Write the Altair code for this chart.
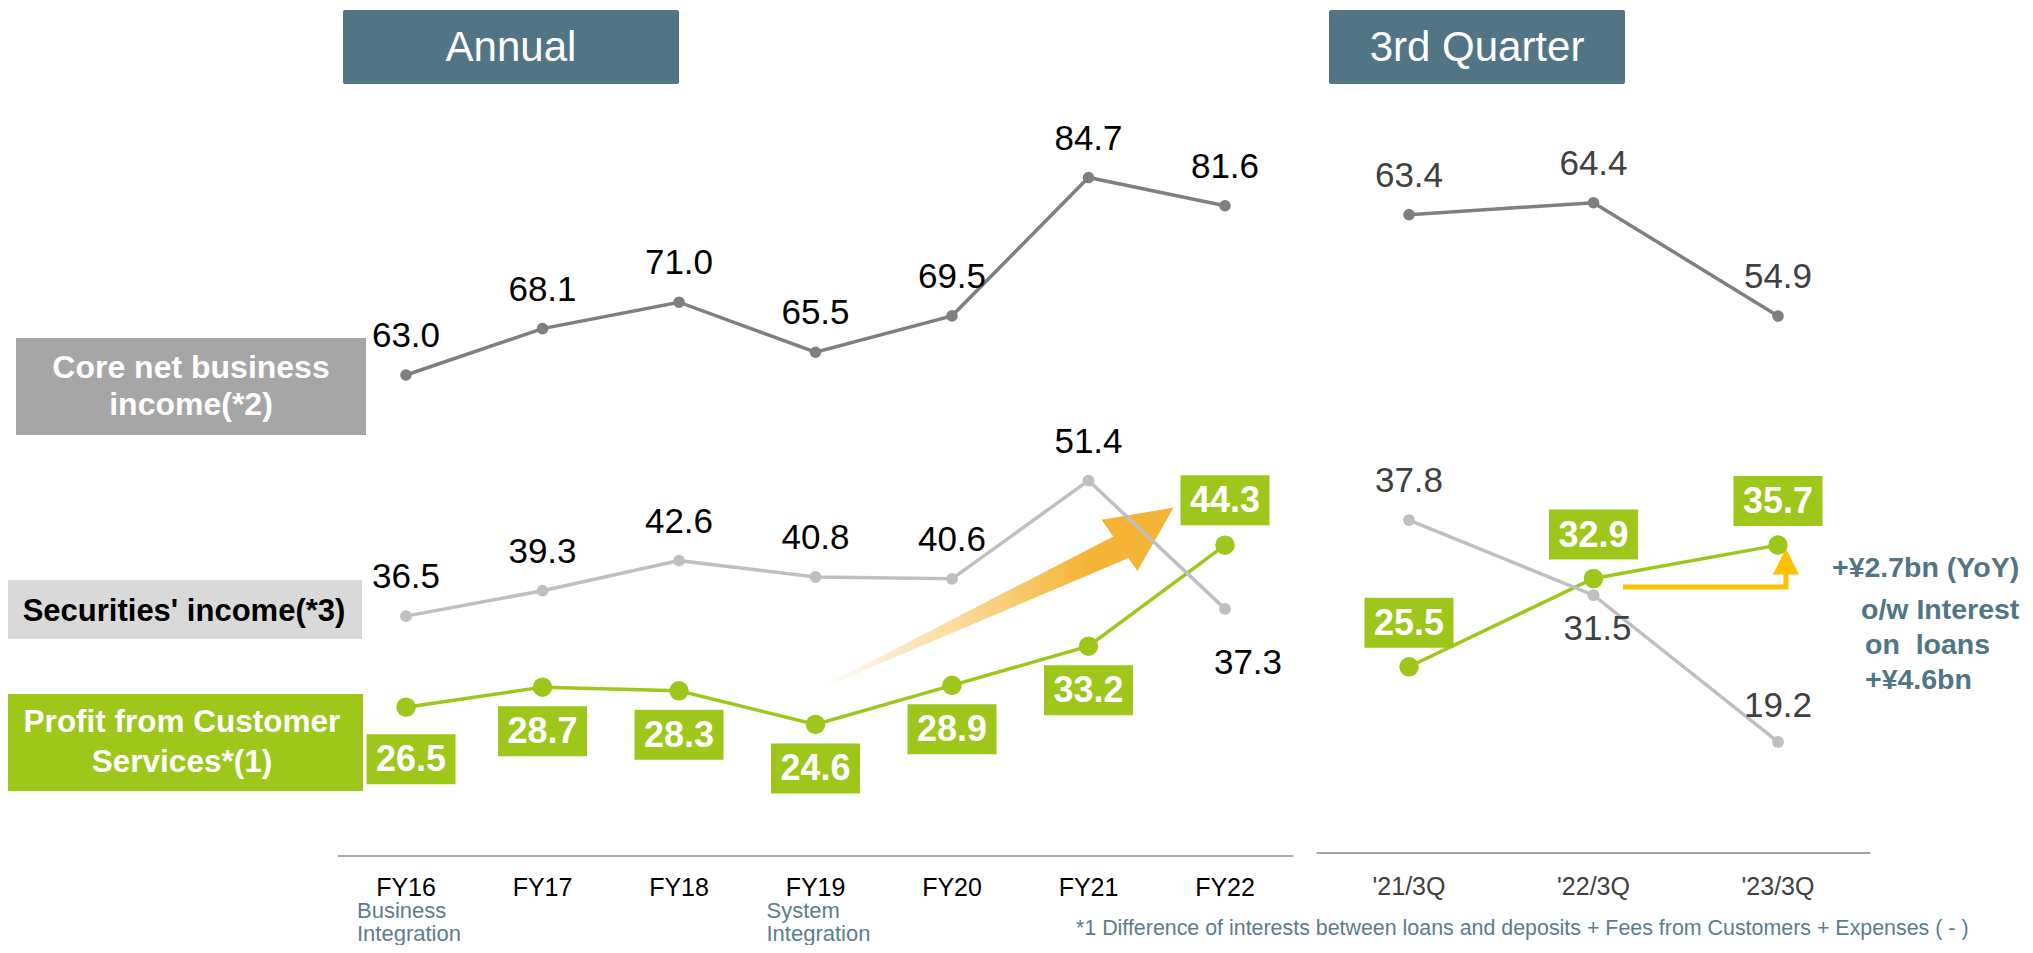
import altair as alt
import pandas as pd

# ---------------- data ----------------
annual_cats = ["FY16", "FY17", "FY18", "FY19", "FY20", "FY21", "FY22"]
annual_core = [63.0, 68.1, 71.0, 65.5, 69.5, 84.7, 81.6]
annual_sec = [36.5, 39.3, 42.6, 40.8, 40.6, 51.4, 37.3]
annual_cust = [26.5, 28.7, 28.3, 24.6, 28.9, 33.2, 44.3]

q_cats = ["'21/3Q", "'22/3Q", "'23/3Q"]
q_core = [63.4, 64.4, 54.9]
q_sec = [37.8, 31.5, 19.2]
q_cust = [25.5, 32.9, 35.7]

notes = {"FY16": ["Business", "Integration"], "FY19": ["System", "Integration"]}

footnote = "*1 Difference of interests between loans and deposits + Fees from Customers + Expenses ( - )"
yoy_lines = ["+¥2.7bn (YoY)", "o/w Interest", "on\u00a0\u00a0loans", "+¥4.6bn"]

# annotation arrows in data units (index, value)
trend_arrow_x = [3.01, 5.24]
trend_arrow_y = [28.4, 44.1]
trend_head = (5.425, 46.35)
yoy_arrow_x = [1.16, 2.043, 2.043]
yoy_arrow_y = [32.18, 32.18, 33.5]
yoy_head = (2.043, 34.32)

# ---------------- styling ----------------
FONT = "Liberation Sans"
GREEN = "#9DC71A"
CORE = "#7F7F7F"
SEC = "#BFBFBF"
SLATE = "#527585"
NOTE = "#5B7D8F"
ORANGE = "#F6B437"
YELLOW = "#FFC000"
W, H = 2017, 937

XA = alt.Scale(domain=[0, 6], range=[398, 1217], nice=False, zero=False)
YA = alt.Scale(domain=[20, 90], range=[758.3, 121.3], nice=False, zero=False)
XQ = alt.Scale(domain=[0, 2], range=[1401, 1770], nice=False, zero=False)
YQ = alt.Scale(domain=[20, 70], range=[724.4, 127.9], nice=False, zero=False)


def mkdf(cats, core, sec, cust):
    d = pd.DataFrame({"i": list(range(len(cats))), "cat": cats, "core": core, "sec": sec, "cust": cust})
    for c in ["core", "sec", "cust"]:
        d[c + "_t"] = d[c].map(lambda v: f"{v:.1f}")
    return d


dfa = mkdf(annual_cats, annual_core, annual_sec, annual_cust)
dfq = mkdf(q_cats, q_core, q_sec, q_cust)
one = pd.DataFrame({"k": [0]})


def X(scale, field="i"):
    return alt.X(f"{field}:Q", scale=scale, axis=None)


def Y(field, scale):
    return alt.Y(f"{field}:Q", scale=scale, axis=None)


def rect(x1, x2, y1, y2, color, radius=0):
    return alt.Chart(one).mark_rect(color=color, cornerRadius=radius, opacity=1).encode(
        x=alt.value(x1), x2=alt.value(x2), y=alt.value(y1), y2=alt.value(y2))


def label(txt, x, y, size, color, bold=False, align="center"):
    return alt.Chart(one).mark_text(
        text=txt, font=FONT, fontSize=size, fontWeight="bold" if bold else "normal",
        color=color, align=align, baseline="middle").encode(x=alt.value(x), y=alt.value(y))


layers = []

# title boxes
layers += [rect(335, 671, 2, 76, SLATE, 2), label("Annual", 503, 40, 42, "white"),
           rect(1321, 1617, 2, 76, SLATE, 2), label("3rd Quarter", 1469, 40, 42, "white")]

# left series labels
layers += [rect(8, 358, 330, 427, "#A6A6A6"),
           label("Core net business", 183, 360, 32, "white", True),
           label("income(*2)", 183, 397, 32, "white", True),
           rect(0, 354, 572, 631, "#D9D9D9"),
           label("Securities' income(*3)", 176, 604, 31, "black", True),
           rect(0, 355, 686, 783, GREEN),
           label("Profit from Customer", 174, 715, 31.5, "white", True),
           label("Services*(1)", 174, 755, 31.5, "white", True)]

# baselines
base_a = pd.DataFrame({"a": [-0.5], "b": [len(annual_cats) - 0.5]})
base_q = pd.DataFrame({"a": [-0.5], "b": [len(q_cats) - 0.5]})
layers += [alt.Chart(base_a).mark_rule(color="#A6A6A6", strokeWidth=2).encode(
               x=X(XA, "a"), x2="b:Q", y=alt.value(848)),
           alt.Chart(base_q).mark_rule(color="#A6A6A6", strokeWidth=2).encode(
               x=X(XQ, "a"), x2="b:Q", y=alt.value(845))]

# orange trend arrow
grad = alt.LinearGradient(
    gradient="linear",
    stops=[alt.GradientStop(offset=0, color="rgba(246,180,55,0)"),
           alt.GradientStop(offset=0.45, color="rgba(246,180,55,0.5)"),
           alt.GradientStop(offset=0.85, color="rgba(246,180,55,1)"),
           alt.GradientStop(offset=1, color="rgba(246,180,55,1)")],
    x1=0, x2=1, y1=0, y2=0)
tr = pd.DataFrame({"i": trend_arrow_x, "v": trend_arrow_y, "w": [0, 26]})
layers.append(alt.Chart(tr).mark_trail(color=grad).encode(
    x=X(XA), y=Y("v", YA),
    size=alt.Size("w:Q", scale=alt.Scale(domain=[0, 26], range=[0, 26]), legend=None)))
th = pd.DataFrame({"i": [trend_head[0]], "v": [trend_head[1]]})
layers.append(alt.Chart(th).mark_point(shape="M0,-1L0.95,1L-0.95,1Z", size=4356, angle=55,
                                       filled=True, color=ORANGE, opacity=1, strokeWidth=0).encode(
    x=X(XA), y=Y("v", YA)))


def series(df, XS, YS, lab_color, offsets_sec):
    out = []
    out.append(alt.Chart(df).mark_line(color=CORE, strokeWidth=3.5).encode(x=X(XS), y=Y("core", YS)))
    out.append(alt.Chart(df).mark_line(color=GREEN, strokeWidth=3.5).encode(x=X(XS), y=Y("cust", YS)))
    out.append(alt.Chart(df).mark_line(color=SEC, strokeWidth=3.5).encode(x=X(XS), y=Y("sec", YS)))
    out.append(alt.Chart(df).mark_circle(color=CORE, size=135, opacity=1).encode(x=X(XS), y=Y("core", YS)))
    out.append(alt.Chart(df).mark_circle(color=GREEN, size=380, opacity=1).encode(x=X(XS), y=Y("cust", YS)))
    out.append(alt.Chart(df).mark_circle(color=SEC, size=140, opacity=1).encode(x=X(XS), y=Y("sec", YS)))
    out.append(alt.Chart(df).mark_text(font=FONT, fontSize=35, color=lab_color, dy=-39, baseline="middle").encode(
        x=X(XS), y=Y("core", YS), text="core_t:N"))
    for k in range(len(df)):
        dx, dy = offsets_sec.get(df.loc[k, "cat"], (0, -39))
        out.append(alt.Chart(df.iloc[[k]]).mark_text(font=FONT, fontSize=35, color=lab_color, dx=dx, dy=dy,
                                                     baseline="middle").encode(
            x=X(XS), y=Y("sec", YS), text="sec_t:N"))
    return out


def green_boxes(df, XS, YS, offsets):
    out = []
    for k in range(len(df)):
        dx, dy = offsets.get(df.loc[k, "cat"], (0, -44))
        sub = df.iloc[[k]]
        out.append(alt.Chart(sub).mark_point(shape="M-1,-0.5618L1,-0.5618L1,0.5618L-1,0.5618Z", size=7921,
                                             filled=True, color=GREEN, opacity=1, strokeWidth=0,
                                             xOffset=dx, yOffset=dy).encode(x=X(XS), y=Y("cust", YS)))
        out.append(alt.Chart(sub).mark_text(font=FONT, fontSize=36, fontWeight="bold", color="white",
                                            dx=dx, dy=dy + 1, baseline="middle").encode(
            x=X(XS), y=Y("cust", YS), text="cust_t:N"))
    return out


layers += series(dfa, XA, YA, "black", {"FY22": (23, 54)})
layers += series(dfq, XQ, YQ, "#404040", {"'22/3Q": (4, 34), "'23/3Q": (0, -36)})
layers += green_boxes(dfa, XA, YA, {"FY16": (5, 52), "FY17": (0, 44), "FY18": (0, 44), "FY19": (0, 44),
                                     "FY20": (0, 44), "FY21": (0, 44), "FY22": (0, -45)})
layers += green_boxes(dfq, XQ, YQ, {})

# category labels
layers.append(alt.Chart(dfa).mark_text(font=FONT, fontSize=25, color="black", baseline="middle").encode(
    x=X(XA), y=alt.value(880), text="cat:N"))
layers.append(alt.Chart(dfq).mark_text(font=FONT, fontSize=25, color="#404040", baseline="middle").encode(
    x=X(XQ), y=alt.value(879), text="cat:N"))

# integration notes
nd = pd.DataFrame({"i": [annual_cats.index(c) for c in notes],
                   "l1": [v[0] for v in notes.values()], "l2": [v[1] for v in notes.values()]})
for fld, yy in [("l1", 903), ("l2", 926)]:
    layers.append(alt.Chart(nd).mark_text(font=FONT, fontSize=22, color=NOTE, align="left", dx=-49,
                                          baseline="middle").encode(x=X(XA), y=alt.value(yy), text=f"{fld}:N"))

# footnote
layers.append(label(footnote, 1068, 921, 21.4, NOTE, align="left"))

# YoY annotation
yy = pd.DataFrame({"i": yoy_arrow_x, "v": yoy_arrow_y, "o": [0, 1, 2]})
layers.append(alt.Chart(yy).mark_line(color=YELLOW, strokeWidth=5).encode(
    x=X(XQ), y=Y("v", YQ), order="o:Q"))
yh = pd.DataFrame({"i": [yoy_head[0]], "v": [yoy_head[1]]})
layers.append(alt.Chart(yh).mark_point(shape="M0,-1L1,1L-1,1Z", size=676, filled=True, color=YELLOW,
                                       opacity=1, strokeWidth=0).encode(x=X(XQ), y=Y("v", YQ)))
layers += [label(yoy_lines[0], 1824, 560, 28.5, SLATE, True, "left"),
           label(yoy_lines[1], 1853, 602, 28.5, SLATE, True, "left"),
           label(yoy_lines[2], 1857, 637, 28.5, SLATE, True, "left"),
           label(yoy_lines[3], 1857, 672, 28.5, SLATE, True, "left")]

chart = alt.layer(*layers).resolve_scale(x="independent", y="independent", size="independent").properties(
    width=W, height=H, padding=0, autosize=alt.AutoSizeParams(type="none"), background="white"
).configure_view(stroke=None)

chart.save("out.html", embed_options={"renderer": "svg", "actions": False})
